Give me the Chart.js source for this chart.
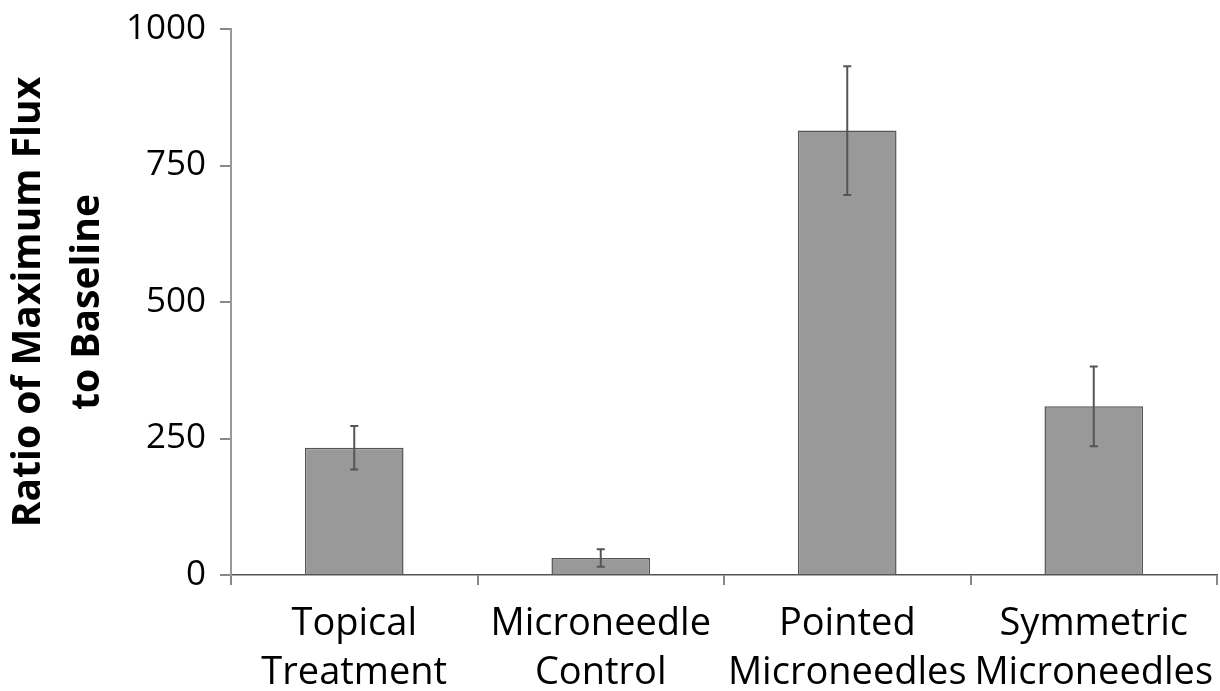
<!DOCTYPE html>
<html>
<head>
<meta charset="utf-8">
<script src="https://cdn.jsdelivr.net/npm/chart.js@4/dist/chart.umd.min.js"></script>
<style>
  html, body { margin: 0; padding: 0; background: #fff; }
  #wrap { width: 1220px; height: 691px; position: relative; }
</style>
</head>
<body>
<div id="wrap"><canvas id="chart"></canvas></div>
<script>
"use strict";

// data
const categories = [["Topical", "Treatment"], ["Microneedle", "Control"], ["Pointed", "Microneedles"], ["Symmetric", "Microneedles"]];
const ratios     = [233, 31, 814, 309];
const errors     = [40, 16, 118, 73];
const yTicks     = [0, 250, 500, 750, 1000];

const FONT = "'Open Sans', 'Noto Sans', sans-serif";

// simple +/- error bars, positioned through the chart scales
const errorBars = {
  id: "errorBars",
  afterDatasetsDraw(chart) {
    const { ctx, scales: { y } } = chart;
    const meta = chart.getDatasetMeta(0);
    ctx.save();
    ctx.strokeStyle = "#555";
    ctx.lineWidth = 2;
    meta.data.forEach((bar, i) => {
      const top = y.getPixelForValue(ratios[i] + errors[i]);
      const bot = y.getPixelForValue(ratios[i] - errors[i]);
      ctx.beginPath();
      ctx.moveTo(bar.x, top); ctx.lineTo(bar.x, bot);
      ctx.moveTo(bar.x - 4, top); ctx.lineTo(bar.x + 4, top);
      ctx.moveTo(bar.x - 4, bot); ctx.lineTo(bar.x + 4, bot);
      ctx.stroke();
    });
    ctx.restore();
  },
};

new Chart(document.getElementById("chart"), {
  type: "bar",
  data: {
    labels: categories,
    datasets: [{
      data: ratios,
      backgroundColor: "#999999",
      borderColor: "#555555",
      borderWidth: 1.5,
      barPercentage: 0.4,
      categoryPercentage: 1,
    }],
  },
  options: {
    responsive: true,
    maintainAspectRatio: false,
    animation: false,
    layout: { padding: { top: 29, right: 3, left: 0, bottom: 0 } },
    plugins: { legend: { display: false }, tooltip: { enabled: false } },
    scales: {
      x: {
        afterFit: s => { s.height = 116; s.paddingLeft = 0; s.paddingRight = 0; },
        border: { color: "#555", width: 1.5 },
        grid: { offset: true, drawOnChartArea: false, color: "#888", lineWidth: 2, tickLength: 10 },
        ticks: { color: "#000", padding: 14, maxRotation: 0, font: { family: FONT, size: 38, lineHeight: 1.3 } },
      },
      y: {
        min: 0,
        max: 1000,
        afterFit: s => { s.width = 231; s.paddingTop = 0; s.paddingBottom = 0; },
        afterBuildTicks: s => { s.ticks = yTicks.map(v => ({ value: v })); },
        border: { color: "#999", width: 2 },
        grid: { drawOnChartArea: false, color: "#888", lineWidth: 2, tickLength: 11 },
        ticks: { color: "#000", padding: 14, callback: v => String(v), font: { family: FONT, size: 35 } },
        title: {
          display: true,
          text: ["Ratio of Maximum Flux", "to Baseline"],
          color: "#000",
          padding: { top: 0, bottom: 0 },
          font: { family: FONT, size: 39, weight: "bold", lineHeight: 1.5 },
        },
      },
    },
  },
  plugins: [errorBars],
});
</script>
</body>
</html>
